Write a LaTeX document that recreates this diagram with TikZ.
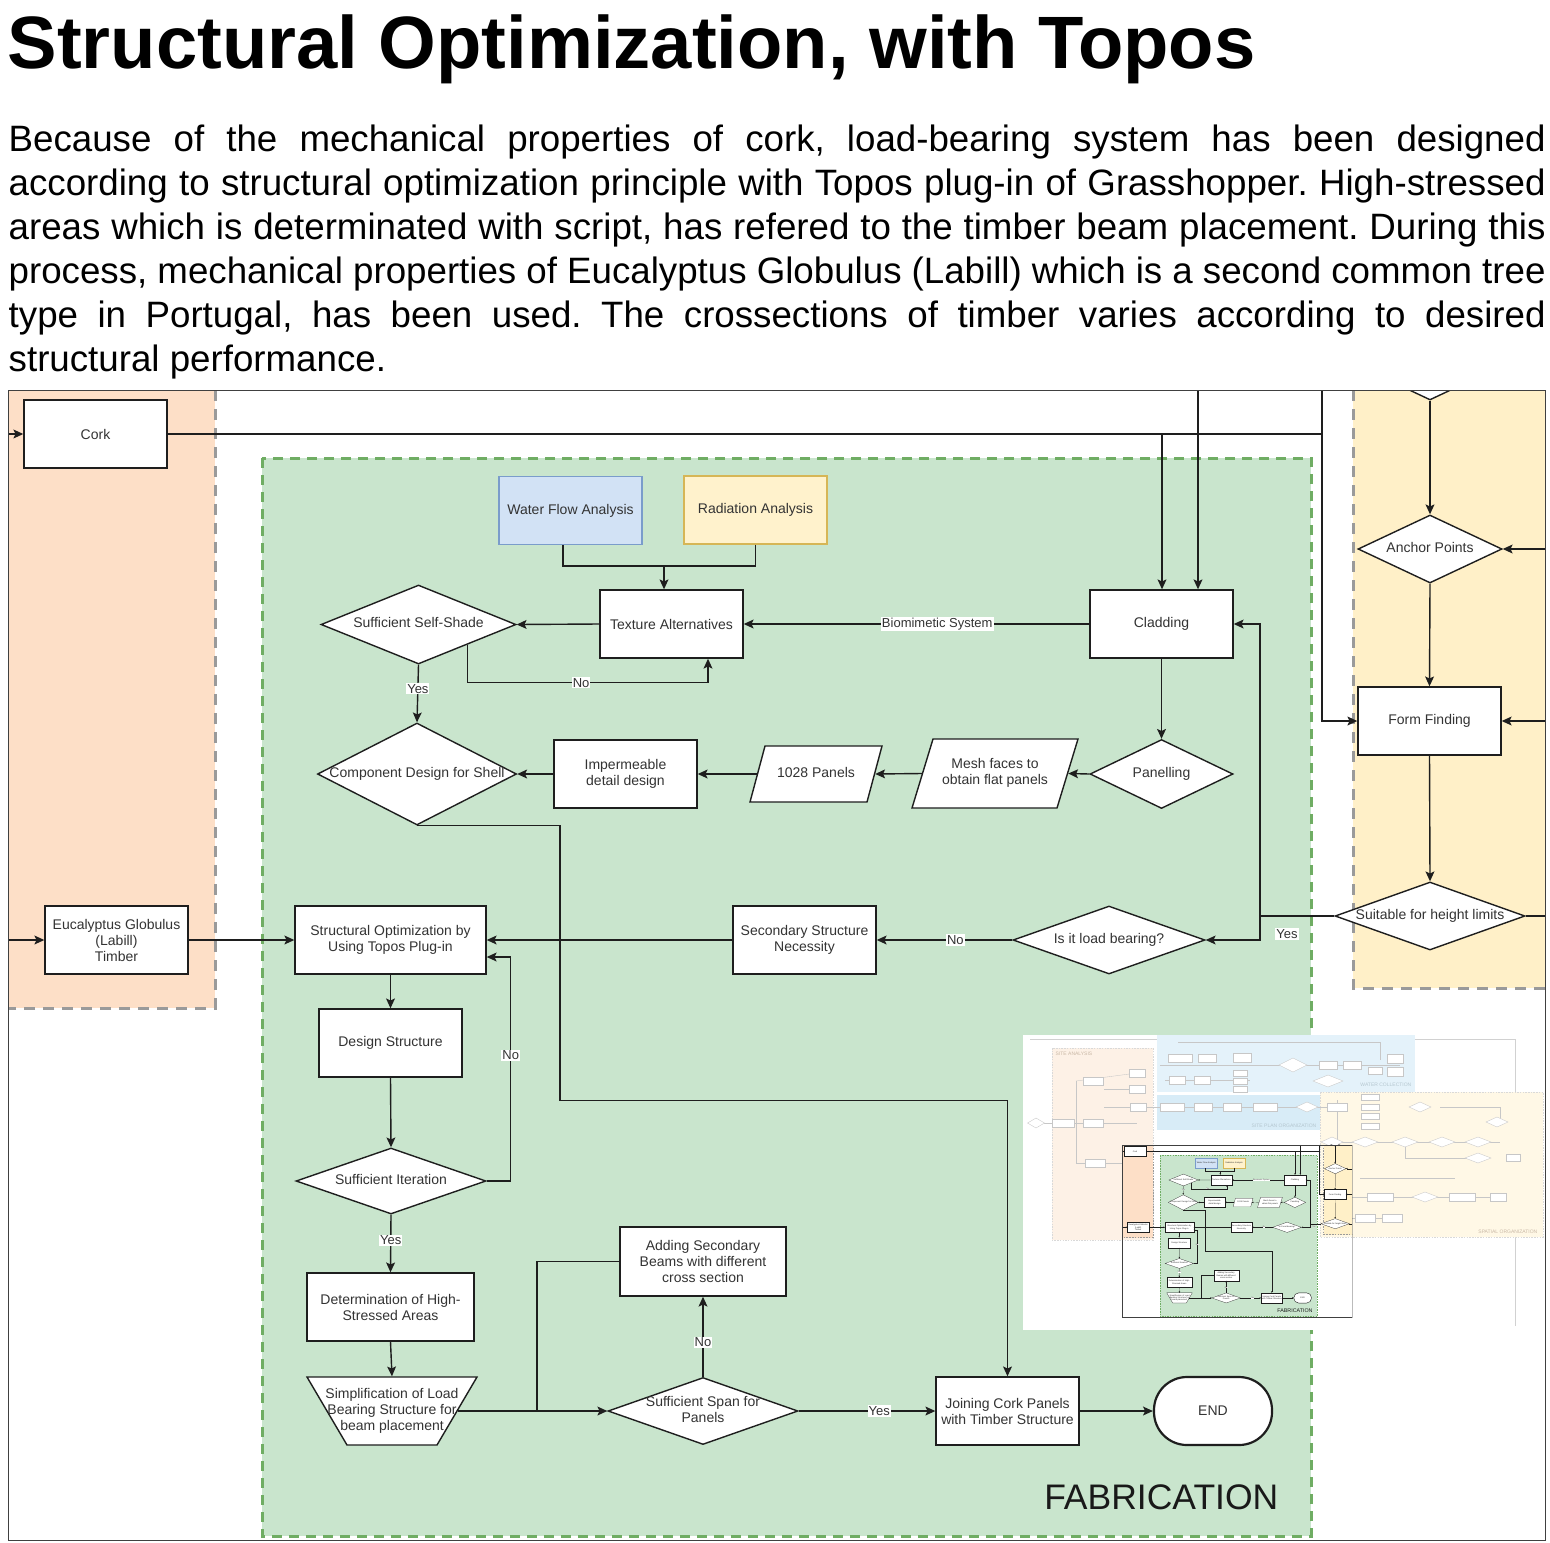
\documentclass[tikz,border=0pt]{standalone}
\usepackage{fontspec}
\setmainfont{Liberation Sans}
\usetikzlibrary{shapes.geometric,arrows.meta,calc}
\definecolor{orfill}{HTML}{FDDFC7}
\definecolor{yefill}{HTML}{FFF0C8}
\definecolor{grfill}{HTML}{C9E5CD}
\definecolor{grline}{HTML}{6FAD63}
\definecolor{gyline}{HTML}{9A9A9A}
\definecolor{bluefill}{HTML}{D2E2F5}
\definecolor{blueline}{HTML}{7A9CCB}
\definecolor{radfill}{HTML}{FFF2CC}
\definecolor{radline}{HTML}{D6B656}
\definecolor{txtcol}{HTML}{333333}
\definecolor{lncol}{HTML}{1E1E1E}
\definecolor{orfaint}{HTML}{FDF1E6}
\definecolor{blfaint}{HTML}{E4F2FA}
\definecolor{blfaintb}{HTML}{D8ECF7}
\definecolor{yefaint}{HTML}{FFF8E6}

\newcommand{\dtext}[1]{\makebox[0pt]{\begin{tabular}{@{}c@{}}#1\end{tabular}}}
\newcommand{\faintbox}[4]{\draw[faint] ({#1-#3/2},{#2-#4/2}) rectangle ({#1+#3/2},{#2+#4/2});}
\newcommand{\faintdia}[4]{\draw[faint] ({#1-#3/2},#2) -- (#1,{#2-#4/2}) -- ({#1+#3/2},#2) -- (#1,{#2+#4/2}) -- cycle;}
% parallelogram outline: centre x, centre y, width, height, slant
\newcommand{\paraoutline}[5]{\draw[draw=lncol, fill=white] ({#1-#3/2+#5},{#2-#4/2}) -- ({#1+#3/2},{#2-#4/2}) -- ({#1+#3/2-#5},{#2+#4/2}) -- ({#1-#3/2},{#2+#4/2}) -- cycle;}
% inverted trapezoid outline: centre x, centre y, top width, height, inset of bottom corners
\newcommand{\trapoutline}[5]{\draw[draw=lncol, fill=white] ({#1-#3/2},{#2-#4/2}) -- ({#1+#3/2},{#2-#4/2}) -- ({#1+#3/2-#5},{#2+#4/2}) -- ({#1-#3/2+#5},{#2+#4/2}) -- cycle;}

\tikzset{
  nbase/.style={draw=lncol, fill=white, text=txtcol, align=center,
    font=\fontsize{14}{16}\selectfont, inner sep=1pt},
  box/.style={nbase, rectangle, minimum width=143pt, minimum height=68pt},
  dia/.style={nbase, diamond, inner sep=0pt},
  textonly/.style={nbase, rectangle, draw=none, fill=none, inner sep=0pt},
  arr/.style={draw=lncol, -{Stealth[length=0pt 7, width=0pt 6.3, inset=0pt 1.4]}},
  plain/.style={draw=lncol},
  lab/.style={fill=white, text=txtcol, font=\fontsize{13}{15}\selectfont, inner sep=1pt},
  regw/.style={line width=3pt},
  grdash/.style={dash pattern=on 10pt off 7pt},
  grydash/.style={dash pattern=on 11pt off 8pt},
  framew/.style={line width=1pt},
  thickln/.style={line width=2.2pt},
  endround/.style={rounded corners=33pt},
  faint/.style={draw=black!22, fill=white, line width=0.35pt},
}

\newcommand{\fabdiagram}{%
  % regions
  \fill[orfill] (8,390) rectangle (215,1008);
  \draw[regw, gyline, grydash] (215,390) -- (215,1008) -- (8,1008);
  \fill[yefill] (1353,390) rectangle (1545,988);
  \draw[regw, gyline, grydash] (1353,390) -- (1353,988) -- (1545,988);
  \draw[regw, grline, grdash, fill=grfill] (262,458) rectangle (1311,1536);
  \node[font=\fontsize{35.5}{40}\selectfont, text=black!90, anchor=base east, inner sep=0pt] (fablabel) at (1279,1509) {FABRICATION};
  % free ends
  \coordinate (fl1) at (8,434);
  \coordinate (fl2) at (8,940);
  \coordinate (ft2) at (1198,390);
  \coordinate (ft3) at (1322,390);
  \coordinate (jc) at (1322,434);
  \coordinate (cl1) at (1162,434);
  \coordinate (fr1) at (1545,549);
  \coordinate (fr2) at (1545,721);
  \coordinate (fr3) at (1545,916);
  \coordinate (jy) at (1260,916);
  \coordinate (tj) at (664,566);
  \coordinate (jsp) at (537,1411);
  % nodes
  \begin{scope}
    \clip (8,390) rectangle (1545,1540);
    \node[dia, minimum width=144pt, minimum height=68pt] (topd) at (1430,366) {};
  \end{scope}
  \node[box] (cork) at (95.5,434) {Cork};
  \node[box] (euc) at (116.5,940) {Eucalyptus Globulus\\(Labill)\\Timber};
  \node[box, fill=bluefill, draw=blueline] (water) at (570.5,510.5) {Water Flow Analysis};
  \node[box, fill=radfill, draw=radline] (rad) at (755.5,510) {Radiation Analysis};
  \node[box] (tex) at (671.5,624) {Texture Alternatives};
  \node[box] (clad) at (1161.5,624) {Cladding};
  \node[dia, minimum width=195pt, minimum height=79pt] (ssh) at (418.5,624.5) {\dtext{Sufficient Self-Shade}};
  \node[dia, minimum width=199pt, minimum height=102pt] (comp) at (417,774) {\dtext{Component Design for Shell}};
  \node[box] (imp) at (625.5,774) {Impermeable\\detail design};
  \paraoutline{816}{774}{132}{56}{15}
  \node[textonly, minimum width=117pt, minimum height=56pt] (p1028) at (816,774) {\dtext{1028 Panels}};
  \paraoutline{995}{773.5}{166}{69}{21}
  \node[textonly, minimum width=145pt, minimum height=69pt] (mesh) at (995,773.5) {\dtext{Mesh faces to\\obtain flat panels}};
  \node[dia, minimum width=143pt, minimum height=69pt] (pan) at (1161.5,774) {\dtext{Panelling}};
  \node[dia, minimum width=144pt, minimum height=68pt] (anchor) at (1430,549) {\dtext{Anchor Points}};
  \node[box] (ff) at (1429.5,721) {Form Finding};
  \node[dia, minimum width=190pt, minimum height=68pt] (suit) at (1430,916) {\dtext{Suitable for height limits}};
  \node[dia, minimum width=192pt, minimum height=68pt] (load) at (1109,940) {\dtext{Is it load bearing?}};
  \node[box] (sec) at (804.5,940) {Secondary Structure\\Necessity};
  \node[box, minimum width=191pt] (sopt) at (390.5,940) {Structural Optimization by\\Using Topos Plug-in};
  \node[box] (ds) at (390.5,1043) {Design Structure};
  \node[dia, minimum width=190pt, minimum height=66pt] (sit) at (391,1181) {\dtext{Sufficient Iteration}};
  \node[box, minimum width=167pt] (det) at (390.5,1307) {Determination of High-\\Stressed Areas};
  \trapoutline{392}{1411}{170}{68}{40}
  \node[textonly, minimum width=130pt, minimum height=68pt] (simp) at (392,1411) {\dtext{Simplification of Load\\Bearing Structure for\\beam placement}};
  \node[box, minimum width=166pt, minimum height=69pt] (add) at (703,1261.5) {Adding Secondary\\Beams with different\\cross section};
  \node[dia, minimum width=190pt, minimum height=67pt] (span) at (703,1411) {\dtext{Sufficient Span for\\Panels}};
  \node[box] (join) at (1007.5,1411) {Joining Cork Panels\\with Timber Structure};
  \node[nbase, rectangle, endround, thickln, minimum width=118pt, minimum height=68pt] (endn) at (1213,1411) {END};
  % connectors
  \draw[arr] (fl1) -- (cork.west);
  \draw[plain] (cork.east) -- (jc);
  \draw[arr] (ft3) |- (ff.west);
  \draw[arr] (cl1) -- (cl1 |- clad.north);
  \draw[arr] (ft2) -- (ft2 |- clad.north);
  \draw[arr] (topd.south) -- (anchor.north);
  \draw[arr] (fr1) -- (anchor.east);
  \draw[arr] (anchor.south) -- (ff.north);
  \draw[arr] (fr2) -- (ff.east);
  \draw[arr] (ff.south) -- (suit.north);
  \draw[plain] (suit.east) -- (fr3);
  \draw[arr] (suit.west) -- (jy) |- (load.east);
  \draw[arr] (jy) |- (clad.east);
  \node[lab] (yes1) at (1287,934) {Yes};
  \draw[arr] (load.west) -- node[lab, pos=0.42] (no1) {No} (sec.east);
  \draw[arr] (sec.west) -- (sopt.east);
  \draw[arr] (fl2) -- (euc.west);
  \draw[arr] (euc.east) -- (sopt.west);
  \draw[arr] (sopt.south) -- (ds.north);
  \draw[arr] (ds.south) -- (sit.north);
  \draw[arr] (sit.east) -- ++(24,0) |- node[lab, pos=0.28] (no2) {No} ([yshift=-17pt]sopt.east);
  \draw[arr] (sit.south) -- node[lab, pos=0.44] (yes2) {Yes} (det.north);
  \draw[arr] (det.south) -- (simp.north);
  \draw[arr] (simp.east) -- (span.west);
  \draw[plain] (add.west) -| (jsp);
  \draw[arr] (span.north) -- node[lab, pos=0.43] (no3) {No} (add.south);
  \draw[arr] (span.east) -- node[lab, pos=0.59] (yes3) {Yes} (join.west);
  \draw[arr] (join.east) -- (endn.west);
  \draw[arr] (comp.south) -- ++(143,0) -- ++(0,275) -| (join.north);
  \draw[plain] ([xshift=-7.5pt]water.south) |- (tj);
  \draw[plain] (rad.south) |- (tj);
  \draw[arr] (tj) -- (tj |- tex.north);
  \draw[arr] (clad.west) -- node[lab, pos=0.44] (bio) {Biomimetic System} (tex.east);
  \draw[arr] (tex.west) -- (ssh.east);
  \draw[arr] ($(ssh.east)!0.5!(ssh.south)$) -- ++(0,38) -| node[lab, pos=0.236] (no4) {No} ([xshift=36.5pt]tex.south);
  \draw[arr] (ssh.south) -- node[lab, pos=0.42] (yes4) {Yes} (comp.north);
  \draw[arr] (imp.west) -- (comp.east);
  \draw[arr] (p1028.west) -- (imp.east);
  \draw[arr] (mesh.west) -- (p1028.east);
  \draw[arr] (pan.west) -- (mesh.east);
  \draw[arr] (clad.south) -- (pan.north);
  % outer frame
  \draw[framew, black!75] (8,390) rectangle (1545,1540);
}

\begin{document}
\begin{tikzpicture}[x=1pt, y=-1pt, line width=1.4pt]
\useasboundingbox (0,0) rectangle (1550,1542);
\fill[white] (0,0) rectangle (1550,1542);
% title and text
\node[anchor=base west, inner sep=0pt, font=\fontsize{74.2}{80}\selectfont\bfseries] (title) at (7,68) {Structural Optimization, with Topos};
\begin{scope}[every node/.style={anchor=base west, inner sep=0pt, font=\fontsize{36.7}{44}\selectfont\frenchspacing}]
\node (l1) at (8,151) {\makebox[1537pt][s]{Because of the mechanical properties of cork, load-bearing system has been designed}};
\node (l2) at (8,195) {\makebox[1537pt][s]{according to structural optimization principle with Topos plug-in of Grasshopper. High-stressed}};
\node (l3) at (8,239) {\makebox[1537pt][s]{areas which is determinated with script, has refered to the timber beam placement. During this}};
\node (l4) at (8,283) {\makebox[1537pt][s]{process, mechanical properties of Eucalyptus Globulus (Labill) which is a second common tree}};
\node (l5) at (8,327) {\makebox[1537pt][s]{type in Portugal, has been used. The crossections of timber varies according to desired}};
\node (l6) at (8,371) {structural performance.};
\end{scope}
% main diagram
\fabdiagram
% inset thumbnail
\fill[white] (1023,1035) rectangle (1543,1330);
\draw[black!18, line width=0.5pt] (1030,1039) -- (1515,1039) -- (1515,1326);
\fill[orfaint] (1052,1048) rectangle (1153,1240);
\draw[black!15, line width=0.4pt, dash pattern=on 1.5pt off 1.2pt] (1052,1048) rectangle (1153,1240);
\fill[blfaint] (1157,1035) rectangle (1415,1092);
\fill[blfaintb] (1157,1095) rectangle (1320,1130);
\fill[yefaint] (1320,1092) rectangle (1543,1237);
\draw[black!15, line width=0.4pt, dash pattern=on 1.5pt off 1.2pt] (1320,1092) rectangle (1543,1237);
\begin{scope}[every node/.style={font=\fontsize{5}{6}\selectfont, inner sep=0pt}]
\node[text=orange!40!black!35, anchor=west] (tsa) at (1055,1054) {SITE ANALYSIS};
\node[text=cyan!40!black!35, anchor=east] (twc) at (1412,1085) {WATER COLLECTION};
\node[text=cyan!40!black!35, anchor=east] (tsp) at (1317,1126) {SITE PLAN ORGANIZATION};
\node[text=orange!40!black!35, anchor=east] (tso) at (1538,1232) {SPATIAL ORGANIZATION};
\end{scope}
% faint lines
\begin{scope}[black!22, line width=0.35pt]
\draw (1044,1123) -- (1137,1123);
\draw (1076,1081) -- (1076,1163) -- (1137,1163);
\draw (1076,1081) -- (1137,1073);
\draw (1104,1089) -- (1137,1089);
\draw (1104,1107) -- (1330,1107);
\draw (1160,1065) -- (1400,1065);
\draw (1165,1080) -- (1250,1080);
\draw (1178,1042) -- (1380,1042) -- (1380,1060);
\draw (1332,1142) -- (1500,1142);
\draw (1337,1100) -- (1337,1142);
\draw (1352,1197) -- (1500,1197);
\draw (1360,1178) -- (1455,1178);
\draw (1440,1107) -- (1500,1107) -- (1500,1122);
\draw (1405,1142) -- (1405,1158) -- (1478,1158);
\draw (1350,1218) -- (1400,1218);
\end{scope}
\faintdia{1036}{1123}{17}{10}
\faintbox{1063}{1123}{22}{8}
\faintbox{1093}{1081}{20}{8}
\faintbox{1093}{1123}{20}{8}
\faintbox{1095}{1163}{20}{8}
\faintbox{1137}{1073}{16}{8}
\faintbox{1137}{1089}{16}{8}
\faintbox{1138}{1107}{16}{8}
\faintbox{1180}{1058}{24}{8}
\faintbox{1207}{1058}{18}{8}
\faintbox{1242}{1058}{18}{9}
\faintdia{1293}{1065}{28}{14}
\faintbox{1328}{1065}{18}{8}
\faintbox{1352}{1065}{18}{8}
\faintbox{1395}{1059}{16}{9}
\faintbox{1395}{1072}{16}{9}
\faintbox{1375}{1071}{14}{7}
\faintbox{1177}{1080}{16}{8}
\faintbox{1202}{1080}{16}{8}
\faintbox{1240}{1073}{14}{6}
\faintbox{1240}{1081}{14}{6}
\faintbox{1240}{1089}{14}{6}
\faintdia{1328}{1081}{30}{12}
\faintbox{1172}{1107}{24}{8}
\faintbox{1203}{1107}{18}{8}
\faintbox{1232}{1107}{18}{8}
\faintbox{1265}{1107}{24}{8}
\faintdia{1307}{1107}{22}{10}
\faintbox{1337}{1107}{20}{8}
\faintbox{1370}{1097}{18}{6}
\faintbox{1370}{1107}{18}{6}
\faintbox{1370}{1116}{18}{6}
\faintbox{1370}{1126}{18}{6}
\faintdia{1420}{1107}{22}{10}
\faintdia{1497}{1122}{22}{10}
\faintdia{1332}{1142}{22}{10}
\faintdia{1365}{1142}{26}{10}
\faintdia{1405}{1142}{26}{10}
\faintdia{1442}{1142}{26}{10}
\faintdia{1478}{1142}{26}{10}
\faintdia{1478}{1158}{26}{10}
\faintbox{1513}{1158}{14}{7}
\faintbox{1380}{1197}{26}{8}
\faintdia{1425}{1197}{26}{10}
\faintbox{1462}{1197}{26}{8}
\faintbox{1498}{1197}{16}{8}
\faintbox{1365}{1218}{20}{8}
\faintbox{1392}{1218}{20}{8}
% mini copy of the diagram
\begin{scope}[shift={(1120.7,1086.3)}, scale=0.15, transform shape, name prefix=mini-,
  line width=0.22pt, regw/.style={line width=0.45pt},
  grdash/.style={dash pattern=on 1.5pt off 1.1pt},
  grydash/.style={dash pattern=on 1.6pt off 1.2pt},
  framew/.style={line width=0.2pt}, thickln/.style={line width=0.4pt},
  endround/.style={rounded corners=4.9pt}]
  \clip (8,390) rectangle (1545,1540);
  \fabdiagram
\end{scope}
\end{tikzpicture}
\end{document}
